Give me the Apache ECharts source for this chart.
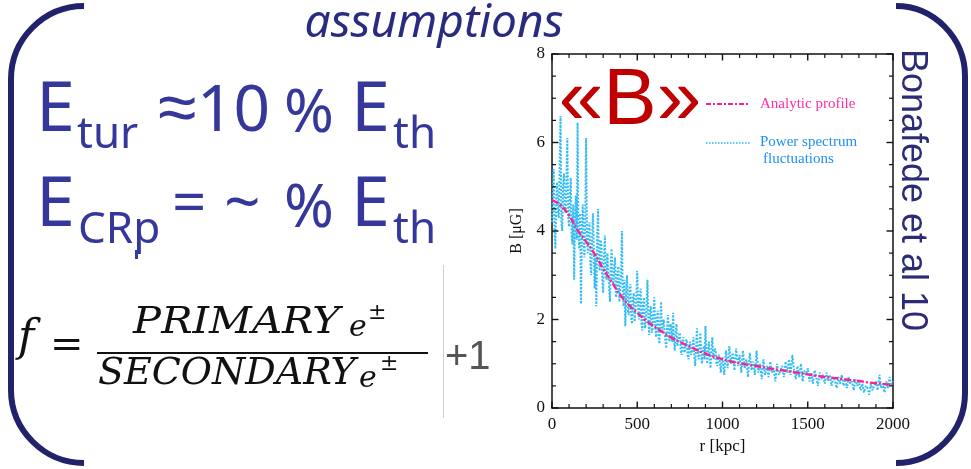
<!DOCTYPE html>
<html>
<head>
<meta charset="utf-8">
<script src="https://cdn.jsdelivr.net/npm/echarts@6/dist/echarts.min.js"></script>
<style>
html, body { margin: 0; padding: 0; background: #ffffff; }
#chart { width: 971px; height: 469px; }
</style>
</head>
<body>
<div id="chart"></div>
<script>
// Radius grid (kpc) and field strength (µG) of the analytic profile
const profileR = [0, 50, 100, 150, 200, 250, 300, 350, 400, 450, 500, 550, 600, 650, 700, 750, 800, 850, 900, 950,
  1000, 1050, 1100, 1150, 1200, 1250, 1300, 1350, 1400, 1450, 1500, 1550, 1600, 1650, 1700, 1750, 1800, 1850, 1900, 1950, 2000];
const profileB = [4.70, 4.58, 4.35, 4.02, 3.76, 3.48, 3.15, 2.85, 2.56, 2.33, 2.15, 1.98, 1.84, 1.71, 1.59, 1.49, 1.40, 1.31, 1.23, 1.16,
  1.10, 1.05, 1.01, 0.98, 0.95, 0.91, 0.88, 0.85, 0.82, 0.79, 0.76, 0.73, 0.70, 0.68, 0.66, 0.63, 0.61, 0.58, 0.56, 0.54, 0.52];

// Radius samples (kpc) and field strength (µG) with power-spectrum fluctuations
// (5 kpc sampling in the core, 10 kpc further out)
const fluctR = [
  0, 5, 10, 15, 20, 25, 30, 35, 40, 45, 50, 55, 60, 65, 70, 75, 80, 85, 90, 95,
  100, 105, 110, 115, 120, 125, 130, 135, 140, 145, 150, 155, 160, 165, 170, 175, 180, 185, 190, 195,
  200, 205, 210, 215, 220, 225, 230, 235, 240, 245, 250, 255, 260, 265, 270, 275, 280, 285, 290, 295,
  300, 305, 310, 315, 320, 325, 330, 335, 340, 345, 350, 355, 360, 365, 370, 375, 380, 385, 390, 395,
  400, 405, 410, 415, 420, 425, 430, 435, 440, 445, 450, 455, 460, 465, 470, 475, 480, 485, 490, 495,
  500, 505, 510, 515, 520, 525, 530, 535, 540, 545, 550, 555, 560, 565, 570, 575, 580, 585, 590, 595,
  600, 605, 610, 615, 620, 625, 630, 635, 640, 645, 650, 655, 660, 665, 670, 675, 680, 685, 690, 695,
  700, 705, 710, 715, 720, 725, 730, 735, 740, 745, 750, 755, 760, 765, 770, 775, 780, 785, 790, 795,
  800, 805, 810, 815, 820, 825, 830, 835, 840, 845, 850, 855, 860, 865, 870, 875, 880, 885, 890, 895,
  900, 905, 910, 915, 920, 925, 930, 935, 940, 945, 950, 955, 960, 965, 970, 975, 980, 985, 990, 995,
  1000, 1010, 1020, 1030, 1040, 1050, 1060, 1070, 1080, 1090,
  1100, 1110, 1120, 1130, 1140, 1150, 1160, 1170, 1180, 1190,
  1200, 1210, 1220, 1230, 1240, 1250, 1260, 1270, 1280, 1290,
  1300, 1310, 1320, 1330, 1340, 1350, 1360, 1370, 1380, 1390,
  1400, 1410, 1420, 1430, 1440, 1450, 1460, 1470, 1480, 1490,
  1500, 1510, 1520, 1530, 1540, 1550, 1560, 1570, 1580, 1590,
  1600, 1610, 1620, 1630, 1640, 1650, 1660, 1670, 1680, 1690,
  1700, 1710, 1720, 1730, 1740, 1750, 1760, 1770, 1780, 1790,
  1800, 1810, 1820, 1830, 1840, 1850, 1860, 1870, 1880, 1890,
  1900, 1910, 1920, 1930, 1940, 1950, 1960, 1970, 1980, 1990,
  2000];
const fluctB = [
  4.2, 4.9, 5.4, 4.0, 3.6, 4.7, 5.1, 4.4, 4.3, 5.5, 6.6, 4.2, 4.0, 5.0, 5.3, 4.5, 4.4, 5.2, 6.1, 4.3,
  4.1, 4.8, 5.2, 3.9, 3.7, 4.6, 2.9, 4.2, 4.8, 3.8, 6.45, 4.0, 3.6, 4.4, 2.35, 3.8, 4.6, 3.9, 3.4, 4.3,
  6.1, 3.9, 3.5, 4.0, 4.2, 3.3, 3.0, 3.8, 4.4, 3.6, 2.7, 3.4, 2.3, 3.9, 4.5, 3.3, 3.1, 3.8, 3.7, 2.9,
  2.6, 3.4, 3.9, 3.0, 2.9, 3.5, 3.5, 2.7, 2.4, 3.3, 3.6, 2.9, 2.8, 3.2, 3.4, 2.5, 2.6, 3.1, 3.2, 2.4,
  2.4, 3.0, 4.0, 2.6, 2.3, 2.9, 1.85, 2.5, 3.0, 2.2, 2.1, 2.7, 2.8, 2.0, 1.9, 2.5, 2.6, 1.95, 2.2, 2.6,
  3.1, 2.3, 2.0, 2.5, 2.7, 1.9, 1.75, 2.4, 2.5, 1.8, 1.9, 2.3, 2.9, 2.0, 1.65, 2.2, 2.3, 1.7, 1.8, 2.2,
  2.5, 1.9, 1.6, 2.0, 2.2, 1.6, 1.45, 2.0, 2.4, 1.7, 1.7, 2.0, 2.0, 1.5, 1.35, 1.8, 2.1, 1.6, 1.5, 1.9,
  1.8, 1.5, 2.15, 1.6, 1.3, 1.7, 1.9, 1.4, 1.4, 1.65, 1.7, 1.3, 1.2, 1.5, 1.6, 1.25, 1.3, 1.5, 1.55, 1.2,
  1.1, 1.4, 1.5, 1.2, 1.25, 1.45, 1.6, 1.15, 0.95, 1.35, 1.8, 1.3, 1.1, 1.4, 1.7, 1.2, 1.0, 1.3, 1.4, 1.1,
  1.85, 1.3, 1.0, 1.25, 1.5, 1.1, 0.9, 1.3, 1.6, 1.2, 1.1, 1.35, 1.3, 1.0, 0.95, 1.15, 1.2, 1.0, 0.8, 1.05,
  1.15, 0.75, 1.3, 0.9, 1.4, 1.0, 1.25, 0.85, 1.35, 0.95,
  1.2, 0.8, 1.3, 0.9, 1.1, 0.7, 1.25, 0.85, 1.05, 0.75,
  1.3, 0.8, 1.0, 0.65, 1.1, 0.75, 0.95, 0.7, 1.05, 0.8,
  0.9, 0.6, 1.0, 0.75, 0.85, 0.95, 0.7, 1.05, 0.8, 1.1,
  0.75, 1.2, 0.85, 0.65, 0.95, 0.7, 1.0, 0.6, 0.85, 0.75,
  0.9, 0.6, 0.8, 0.55, 0.85, 0.7, 0.5, 0.8, 0.65, 0.75,
  0.55, 0.8, 0.6, 0.75, 0.5, 0.7, 0.6, 0.45, 0.7, 0.55,
  0.75, 0.5, 0.65, 0.45, 0.7, 0.55, 0.6, 0.4, 0.65, 0.5,
  0.6, 0.4, 0.55, 0.35, 0.5, 0.45, 0.3, 0.55, 0.4, 0.5,
  0.6, 0.4, 0.75, 0.45, 0.55, 0.35, 0.6, 0.45, 0.7, 0.5,
  0.6];

// Axis tick values and number of minor intervals between major ticks
const xTickValues = [0, 500, 1000, 1500, 2000];
const yTickValues = [0, 2, 4, 6, 8];
const xMinorSplit = 5;
const yMinorSplit = 4;

const seriesNames = ['Analytic profile', 'Power spectrum fluctuations'];

const zip = (xs, ys) => xs.map((x, i) => [x, ys[i]]);

const INK = '#111111';
const SERIF = '"Liberation Serif", "DejaVu Serif", serif';
const SLIDE_BLUE = '#35379a';
const BRACKET = '#22226b';

const xMin = xTickValues[0], xMax = xTickValues[xTickValues.length - 1];
const xStep = xTickValues[1] - xTickValues[0];
const yMin = yTickValues[0], yMax = yTickValues[yTickValues.length - 1];
const yStep = yTickValues[1] - yTickValues[0];

// Tick positions for the inward-pointing frame ticks: [value, axis (0 = r, 1 = B), isMajor]
function tickList(ticks, split, axisId) {
  const out = [];
  for (let i = 0; i < ticks.length; i++) {
    out.push([ticks[i], axisId, 1]);
    if (i < ticks.length - 1) {
      const sub = (ticks[i + 1] - ticks[i]) / split;
      for (let k = 1; k < split; k++) out.push([ticks[i] + k * sub, axisId, 0]);
    }
  }
  return out;
}
const frameTicks = tickList(xTickValues, xMinorSplit, 0).concat(tickList(yTickValues, yMinorSplit, 1));

function frameAxis(extra) {
  return Object.assign({
    type: 'value',
    axisLine: { show: true, onZero: false, lineStyle: { color: INK, width: 1.5 } },
    axisTick: { show: false },
    minorTick: { show: false },
    splitLine: { show: false },
    minorSplitLine: { show: false }
  }, extra);
}

// Text helper for the slide annotations around the plot
function txt(text, x, y, size, opts) {
  opts = opts || {};
  return {
    type: 'text', x: x, y: y, z: 100,
    rotation: opts.rotation || 0,
    scaleX: opts.scaleX || 1,
    style: {
      text: text,
      fontFamily: opts.family || '"Noto Sans", sans-serif',
      fontSize: size,
      fontStyle: opts.italic ? 'italic' : 'normal',
      fontWeight: opts.weight || 'normal',
      fill: opts.color || SLIDE_BLUE,
      align: opts.align || 'left',
      verticalAlign: 'middle'
    }
  };
}

function curve(x1, y1, cx1, cy1, cx2, cy2, x2, y2) {
  return {
    type: 'bezierCurve', z: 100,
    shape: { x1: x1, y1: y1, cpx1: cx1, cpy1: cy1, cpx2: cx2, cpy2: cy2, x2: x2, y2: y2 },
    style: { stroke: BRACKET, lineWidth: 6, fill: null }
  };
}
function seg(x1, y1, x2, y2) {
  return {
    type: 'line', z: 100,
    shape: { x1: x1, y1: y1, x2: x2, y2: y2 },
    style: { stroke: BRACKET, lineWidth: 6 }
  };
}

const MATH = '"DejaVu Serif", "Liberation Serif", serif';

const graphics = [
  // brackets
  curve(84, 6, 44, 6, 11, 39, 11, 79),
  seg(11, 79, 11, 390),
  curve(11, 390, 11, 430, 44, 463, 84, 463),
  curve(896, 6, 934, 6, 965, 38, 965, 76),
  seg(965, 76, 965, 393),
  curve(965, 393, 965, 432, 934, 463, 896, 463),

  // heading
  txt('assumptions', 434, 24, 46, { italic: true, align: 'center', color: '#2a2a80' }),

  // energy ratios
  txt('E', 36, 111, 70),
  txt('tur', 77, 135, 44),
  txt('≈', 158, 111, 70),
  txt('10', 197, 113, 64),
  txt('%', 284, 115, 60),
  txt('E', 351, 111, 70),
  txt('th', 393, 135, 44),

  txt('E', 36, 206, 70),
  txt('CRp', 78, 230, 44),
  txt('=', 172, 206, 60),
  txt('~', 224, 206, 64),
  txt('%', 284, 210, 60),
  txt('E', 351, 206, 70),
  txt('th', 393, 230, 44),

  // small cursor mark
  { type: 'rect', z: 100, shape: { x: 135, y: 250, width: 3, height: 9 }, style: { fill: '#3a3a9e' } },

  // f = PRIMARY e± / SECONDARY e±
  txt('f', 18, 340, 44, { family: MATH, italic: true, color: INK }),
  txt('=', 50, 347, 40, { family: MATH, color: INK }),
  txt('PRIMARY', 133, 323, 38, { family: MATH, italic: true, color: INK, scaleX: 1.1 }),
  txt('e', 349, 328, 30, { family: MATH, italic: true, color: INK }),
  txt('±', 368, 313, 22, { family: MATH, color: INK }),
  { type: 'rect', z: 100, shape: { x: 97, y: 352, width: 331, height: 2 }, style: { fill: INK } },
  txt('SECONDARY', 98, 374, 38, { family: MATH, italic: true, color: INK }),
  txt('e', 359, 379, 30, { family: MATH, italic: true, color: INK }),
  txt('±', 380, 364, 22, { family: MATH, color: INK }),
  { type: 'rect', z: 100, shape: { x: 443, y: 265, width: 1, height: 153 }, style: { fill: '#cfcfcf' } },
  txt('+1', 445, 358, 40, { family: '"Liberation Sans", Arial, sans-serif', color: '#555555' }),

  // «B» title
  txt('«B»', 630, 102, 80, { family: '"Liberation Sans", Arial, sans-serif', align: 'center', color: '#c00000' }),

  // reference, read top to bottom
  txt('Bonafede et al 10', 912, 190, 36, { family: '"Liberation Sans", Arial, sans-serif', align: 'center', color: '#2b2b78', rotation: -Math.PI / 2 }),

  // legend
  { type: 'line', z: 100, shape: { x1: 706, y1: 104, x2: 750, y2: 104 }, style: { stroke: '#ff1f8f', lineWidth: 2, lineDash: [5, 2, 2, 2] } },
  txt(seriesNames[0], 760, 104, 15, { family: SERIF, color: '#ff2ea0' }),
  { type: 'line', z: 100, shape: { x1: 706, y1: 143, x2: 750, y2: 143 }, style: { stroke: '#2ab4f2', lineWidth: 1.6, lineDash: [1.5, 1.5] } },
  txt('Power spectrum', 760, 142, 15, { family: SERIF, color: '#1f8ff5' }),
  txt('fluctuations', 763, 159, 15, { family: SERIF, color: '#1f8ff5' })
];

const chart = echarts.init(document.getElementById('chart'), null, { renderer: 'canvas' });

const plainNumber = v => String(v);

// Draws one tick on each opposite side of the frame, pointing inward
function renderFrameTick(params, api) {
  const v = api.value(0);
  const onB = api.value(1) === 1;
  const major = api.value(2) === 1;
  const len = major ? 6.5 : 4;
  const style = { stroke: INK, lineWidth: major ? 1.4 : 1.2 };
  let a, b, shapes;
  if (!onB) {
    a = api.coord([v, yMin]);
    b = api.coord([v, yMax]);
    shapes = [
      { x1: a[0], y1: a[1], x2: a[0], y2: a[1] - len },
      { x1: b[0], y1: b[1], x2: b[0], y2: b[1] + len }
    ];
  } else {
    a = api.coord([xMin, v]);
    b = api.coord([xMax, v]);
    shapes = [
      { x1: a[0], y1: a[1], x2: a[0] + len, y2: a[1] },
      { x1: b[0], y1: b[1], x2: b[0] - len, y2: b[1] }
    ];
  }
  return {
    type: 'group',
    children: shapes.map(s => ({ type: 'line', shape: s, style: style }))
  };
}

chart.setOption({
  animation: false,
  backgroundColor: '#ffffff',
  grid: { left: 552, top: 54, width: 341, height: 354, containLabel: false },
  xAxis: [
    frameAxis({
      position: 'bottom', min: xMin, max: xMax, interval: xStep,
      axisLabel: { show: true, color: INK, fontFamily: SERIF, fontSize: 17, margin: 8, formatter: plainNumber },
      name: 'r [kpc]', nameLocation: 'middle', nameGap: 30,
      nameTextStyle: { color: INK, fontFamily: SERIF, fontSize: 17 }
    }),
    frameAxis({
      position: 'top', min: xMin, max: xMax, interval: xStep,
      axisLabel: { show: false }
    })
  ],
  yAxis: [
    frameAxis({
      position: 'left', min: yMin, max: yMax, interval: yStep,
      axisLabel: { show: true, color: INK, fontFamily: SERIF, fontSize: 17, margin: 7, formatter: plainNumber },
      name: 'B [μG]', nameLocation: 'middle', nameGap: 27,
      nameTextStyle: { color: INK, fontFamily: SERIF, fontSize: 16 }
    }),
    frameAxis({
      position: 'right', min: yMin, max: yMax, interval: yStep,
      axisLabel: { show: false }
    })
  ],
  series: [
    {
      name: seriesNames[1],
      type: 'line',
      xAxisIndex: 0, yAxisIndex: 0,
      data: zip(fluctR, fluctB),
      symbol: 'none',
      z: 2,
      lineStyle: { color: '#33bdf5', width: 2, type: [2, 1.5] }
    },
    {
      name: seriesNames[0],
      type: 'line',
      xAxisIndex: 0, yAxisIndex: 0,
      data: zip(profileR, profileB),
      symbol: 'none',
      smooth: true,
      z: 3,
      lineStyle: { color: '#ff1f8f', width: 2.4, type: [7, 2, 2, 2] }
    },
    {
      name: 'frame ticks',
      type: 'custom',
      xAxisIndex: 0, yAxisIndex: 0,
      coordinateSystem: 'cartesian2d',
      silent: true,
      z: 4,
      encode: { x: 0, y: 1 },
      data: frameTicks,
      renderItem: renderFrameTick
    }
  ],
  graphic: { elements: graphics }
});
</script>
</body>
</html>
